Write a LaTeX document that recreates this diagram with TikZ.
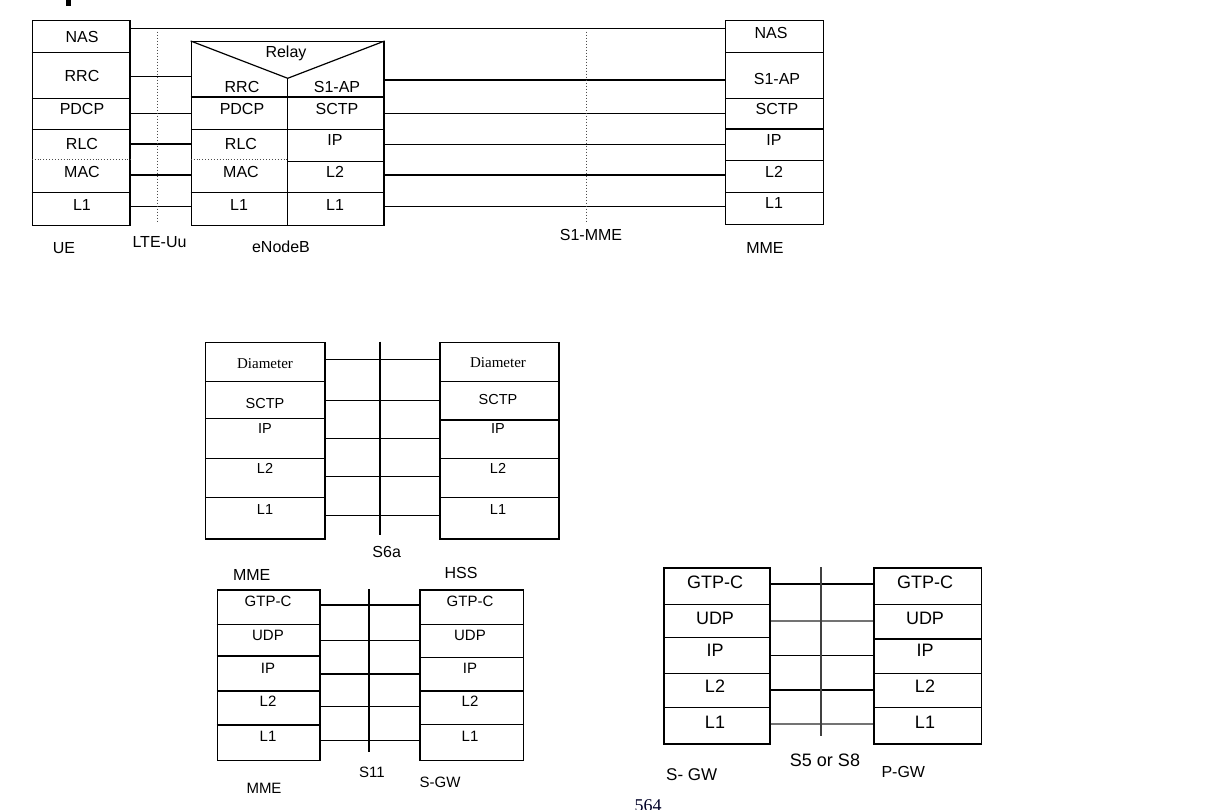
\documentclass[tikz,border=0pt]{standalone}
\usepackage{fontspec}
\setmainfont{Liberation Sans}
\newfontfamily\serifface{Liberation Serif}
\newcommand{\hsep}[2]{\draw[sepline] (#1.west |- 0,#2) -- (#1.east |- 0,#2);}
\begin{document}
\begin{tikzpicture}[x=1pt,y=-1pt,
  stackbox/.style={draw, line width=1.3pt, rectangle, inner sep=0pt, anchor=north west},
  sepline/.style={line width=1.2pt},
  conn/.style={line width=1.2pt},
  lightconn/.style={line width=1.2pt, black!55},
  dotsep/.style={line width=0.9pt, black!70, dotted},
  iface/.style={line width=1pt, black!70, dotted},
  ifsolid/.style={line width=1.2pt},
  tA/.style={inner sep=0pt, font=\fontsize{16}{19}\selectfont},
  tB/.style={inner sep=0pt, font=\fontsize{14.5}{17}\selectfont},
  tS/.style={inner sep=0pt, font=\serifface\fontsize{15}{18}\selectfont},
  tC/.style={inner sep=0pt, font=\fontsize{15}{18}\selectfont},
  tD/.style={inner sep=0pt, font=\fontsize{18}{21}\selectfont},
  tL/.style={inner sep=0pt, font=\fontsize{16}{19}\selectfont}]
\useasboundingbox (0,0) rectangle (1216,810);
\fill (66,0) rectangle (71,6);

% ================= top diagram =================
\node[stackbox, minimum width=97.6pt, minimum height=205pt] (ue) at (31.7,20) {};
\hsep{ue}{52.7}\hsep{ue}{98.3}\hsep{ue}{129.3}\hsep{ue}{192.3}
\draw[dotsep] (ue.west |- 0,159) -- (ue.east |- 0,159);
\node[tA] (ueNAS) at (82,37.3) {NAS};
\node[tA] (ueRRC) at (82,76) {RRC};
\node[tA] (uePDCP) at (82,109.3) {PDCP};
\node[tA] (ueRLC) at (82,144) {RLC};
\node[tA] (ueMAC) at (82,171.7) {MAC};
\node[tA] (ueL1) at (82,205) {L1};

\node[stackbox, minimum width=192.6pt, minimum height=184pt] (enb) at (190.7,41) {};
\coordinate (apex) at (287.7,78.3);
\draw[sepline] (enb.north west) -- (apex) -- (enb.north east);
\draw[sepline] (apex) -- (apex |- enb.south);
\draw[line width=2.2pt] (enb.west |- 0,96.7) -- (enb.east |- 0,96.7);
\hsep{enb}{129.3}\hsep{enb}{192.3}
\draw[dotsep] (enb.west |- 0,159.7) -- (apex |- 0,159.7);
\draw[sepline] (apex |- 0,161.7) -- (enb.east |- 0,161.7);
\node[tA] (relay) at (286,53.3) {Relay};
\node[tA] (enbRRC) at (242,86.7) {RRC};
\node[tA] (enbPDCP) at (242,109.3) {PDCP};
\node[tA] (enbRLC) at (241,144) {RLC};
\node[tA] (enbMAC) at (241,171.7) {MAC};
\node[tA] (enbL1a) at (239,205) {L1};
\node[tA] (enbS1AP) at (337,86.7) {S1-AP};
\node[tA] (enbSCTP) at (337,109.3) {SCTP};
\node[tA] (enbIP) at (335,140) {IP};
\node[tA] (enbL2) at (335,171.7) {L2};
\node[tA] (enbL1b) at (335,205) {L1};

\node[stackbox, minimum width=97.7pt, minimum height=204pt] (mme) at (725,20) {};
\hsep{mme}{52.7}\hsep{mme}{98.3}\hsep{mme}{129}\hsep{mme}{160.7}\hsep{mme}{192.3}
\node[tA] (mmeNAS) at (771,33.3) {NAS};
\node[tA] (mmeS1AP) at (777,79.3) {S1-AP};
\node[tA] (mmeSCTP) at (777,109) {SCTP};
\node[tA] (mmeIP) at (774,140) {IP};
\node[tA] (mmeL2) at (774,171.7) {L2};
\node[tA] (mmeL1) at (774,203.3) {L1};

\draw[conn] (ue.east |- 0,28.3) -- (mme.west |- 0,28.3);
\foreach \yy in {76.7,113.3,144,175,206.7}{
  \draw[conn] (ue.east |- 0,\yy) -- (enb.west |- 0,\yy);}
\foreach \yy in {80,113.3,144.3,175,206.7}{
  \draw[conn] (enb.east |- 0,\yy) -- (mme.west |- 0,\yy);}

\draw[iface] (157.3,31.7) -- (157.3,221.7);
\draw[iface] (586.7,31.7) -- (586.7,222.7);
\node[tL] (lblUE) at (64,248.3) {UE};
\node[tL] (lblUu) at (159.5,241.7) {LTE-Uu};
\node[tL] (lblENB) at (281,246.7) {eNodeB};
\node[tL] (lblS1) at (591,235) {S1-MME};
\node[tL] (lblMME) at (765,248.3) {MME};

% ================= S6a =================
\node[stackbox, minimum width=119.3pt, minimum height=196.6pt] (mme2) at (205,341.7) {};
\hsep{mme2}{381.7}\hsep{mme2}{418.3}\hsep{mme2}{458.3}\hsep{mme2}{497.7}
\node[stackbox, minimum width=119pt, minimum height=196.6pt] (hss) at (439.3,341.7) {};
\hsep{hss}{381.7}\hsep{hss}{420}\hsep{hss}{458.3}\hsep{hss}{497.7}
\node[tS] (m2D) at (265,363.3) {Diameter};
\node[tB] (m2S) at (265,403.3) {SCTP};
\node[tB] (m2I) at (265,428.3) {IP};
\node[tB] (m2L2) at (265,468.3) {L2};
\node[tB] (m2L1) at (265,510) {L1};
\node[tS] (hD) at (498,362.3) {Diameter};
\node[tB] (hS) at (498,399.3) {SCTP};
\node[tB] (hI) at (498,429) {IP};
\node[tB] (hL2) at (498,468.3) {L2};
\node[tB] (hL1) at (498,510) {L1};
\foreach \yy in {359.3,400.7,438.3,476.7,515.7}{
  \draw[conn] (mme2.east |- 0,\yy) -- (hss.west |- 0,\yy);}
\draw[ifsolid] (380,341.7) -- (380,535);
\node[tL] (lblS6a) at (386.7,551.7) {S6a};
\node[tL] (lblMME2) at (251.7,575) {MME};
\node[tL] (lblHSS) at (461,572.7) {HSS};

% ================= S11 =================
\node[stackbox, minimum width=102.6pt, minimum height=170.7pt] (mme3) at (216.7,589.3) {};
\hsep{mme3}{624.3}\hsep{mme3}{656}\hsep{mme3}{691}\hsep{mme3}{725}
\node[stackbox, minimum width=103.4pt, minimum height=170.7pt] (sgw) at (419.3,589.3) {};
\hsep{sgw}{624.3}\hsep{sgw}{657.3}\hsep{sgw}{691}\hsep{sgw}{724.3}
\node[tC] (m3G) at (268,601.7) {GTP-C};
\node[tC] (m3U) at (268,635) {UDP};
\node[tC] (m3I) at (268,668.3) {IP};
\node[tC] (m3L2) at (268,701.7) {L2};
\node[tC] (m3L1) at (268,736) {L1};
\node[tC] (sG) at (470,601.7) {GTP-C};
\node[tC] (sU) at (470,635) {UDP};
\node[tC] (sI) at (470,668.3) {IP};
\node[tC] (sL2) at (470,701.7) {L2};
\node[tC] (sL1) at (470,736) {L1};
\foreach \yy in {605,640.7,674,706.7,740.7}{
  \draw[conn] (mme3.east |- 0,\yy) -- (sgw.west |- 0,\yy);}
\draw[ifsolid] (369,589.3) -- (369,751.7);
\node[tC] (lblS11) at (372,772.7) {S11};
\node[tC] (lblSGW) at (440,782.7) {S-GW};
\node[tC] (lblMME3) at (264,788.3) {MME};

% ================= S5/S8 =================
\node[stackbox, minimum width=106pt, minimum height=176pt] (sgw2) at (663.3,567.3) {};
\hsep{sgw2}{604.3}\hsep{sgw2}{637.3}\hsep{sgw2}{673.3}\hsep{sgw2}{707.7}
\node[stackbox, minimum width=107.7pt, minimum height=176pt] (pgw) at (873.3,567.3) {};
\hsep{pgw}{604.3}\hsep{pgw}{639}\hsep{pgw}{673.3}\hsep{pgw}{707.7}
\node[tD] (s2G) at (715,582.7) {GTP-C};
\node[tD] (s2U) at (715,618.3) {UDP};
\node[tD] (s2I) at (715,650.7) {IP};
\node[tD] (s2L2) at (715,686) {L2};
\node[tD] (s2L1) at (715,722.3) {L1};
\node[tD] (pG) at (925,582.7) {GTP-C};
\node[tD] (pU) at (925,618.3) {UDP};
\node[tD] (pI) at (925,650.7) {IP};
\node[tD] (pL2) at (925,686) {L2};
\node[tD] (pL1) at (925,722.3) {L1};
\draw[conn] (sgw2.east |- 0,584) -- (pgw.west |- 0,584);
\draw[lightconn] (sgw2.east |- 0,621) -- (pgw.west |- 0,621);
\draw[conn] (sgw2.east |- 0,655.7) -- (pgw.west |- 0,655.7);
\draw[conn] (sgw2.east |- 0,690) -- (pgw.west |- 0,690);
\draw[lightconn] (sgw2.east |- 0,724) -- (pgw.west |- 0,724);
\draw[ifsolid, black!75] (821,567.3) -- (821,736);
\node[tD] (lblS5) at (825,760) {S5 or S8};
\node[tL, font=\fontsize{17}{20}\selectfont] (lblSGW2) at (691.7,775) {S- GW};
\node[tL] (lblPGW) at (903.3,771.7) {P-GW};

\node[inner sep=0pt, anchor=base, font=\serifface\fontsize{18}{21}\selectfont, text=black!85!blue] (pnum) at (648,811) {564};
\end{tikzpicture}
\end{document}
